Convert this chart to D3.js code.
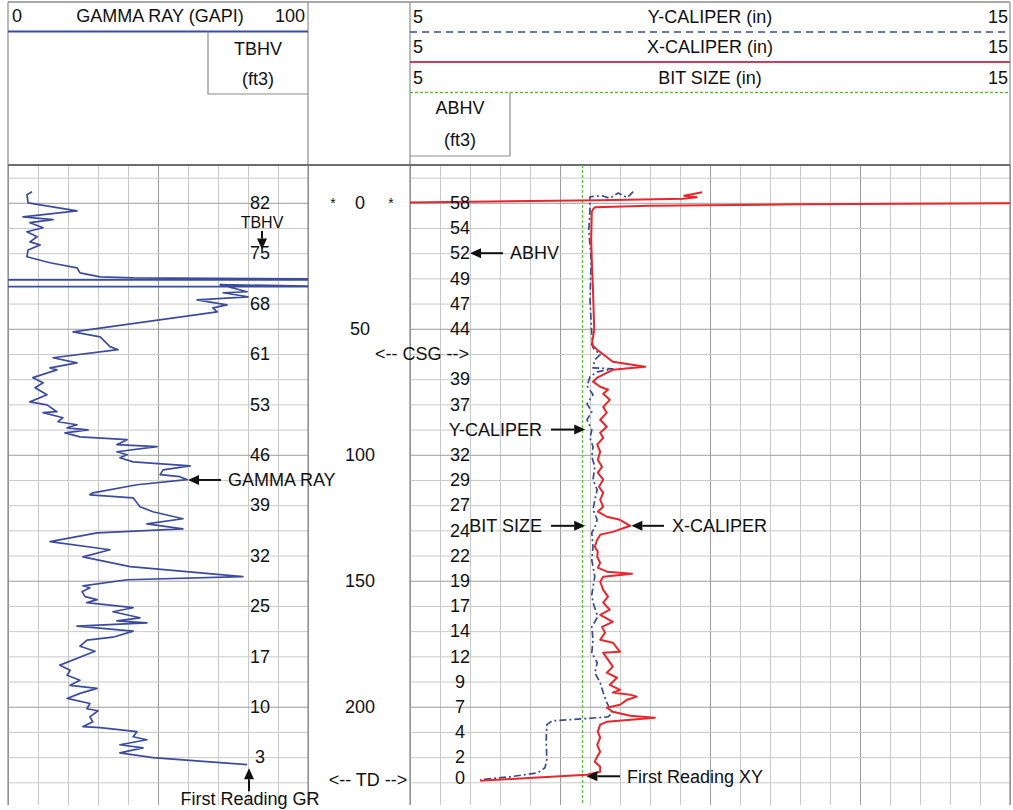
<!DOCTYPE html>
<html>
<head>
<meta charset="utf-8">
<script src="https://cdn.jsdelivr.net/npm/d3@7"></script>
<style>
  body { margin: 0; background: #fff; }
  svg text { font-family: "Liberation Sans", Arial, sans-serif; fill: #111; }
</style>
</head>
<body>
<svg id="log" width="1013" height="810"></svg>
<script>
// ---------------- data ----------------
// Gamma ray samples: [depth, GAPI]; null breaks the trace where it leaves the scale
const gammaRay = [
  [-4.4,8],[-3.2,6.3],[0,6.7],[3.2,23],[5.6,5],[6.7,15],[7.9,7.3],[9.9,11.7],[11.5,6.3],[13.5,9.7],
  [15.5,7.3],[16.7,10.7],[18.7,6.7],[21.4,6.3],[23.8,14],[25.8,23],[27.8,24],[29.4,30.7],[29.8,41.7],[30.3,115],
  null,
  [30.6,-15],[30.6,115],
  null,
  [33.3,-15],[33.3,115],[32.5,70.7],[35.3,79.7],[35.7,71.7],[37.3,80],[38.5,63],[40.5,73],[41.7,68.3],[43.3,69.7],
  [51.2,21.7],[53.2,30.7],[57.1,34],[58.3,36.7],[61.5,15],[63.5,23],[65.5,14],[66.3,16.3],[69.4,8.3],[71.4,11.7],
  [73.4,9],[76.2,13],[79,7.3],[80.2,13],[82.9,16.3],[83.3,11.7],[85.3,18.3],[86.9,16.7],[88.1,23],[89.3,19.7],
  [90.1,26.7],[91.3,19],[92.9,24],[94,39.7],[96,36.3],[96.8,49.7],[98.8,36.3],[100,39.7],[101.2,37.3],[102.8,41.7],
  [104.4,60.7],[106,51.7],[107.9,50.7],[108.7,57.3],[109.9,59.7],[111.9,43],[115.1,28.3],[115.9,27.3],[117.1,41.7],
  [120.6,44],[122.6,48.3],[125.4,58.3],[127.4,46.3],[129.4,58.3],[131,29.7],[134.5,14],[137.7,34],[140.5,25],
  [144.4,40.7],[148.4,78.3],[149.6,39.7],[152,25],[152.8,27.3],[154.4,24.7],[156.3,25.7],[157.5,29.7],[158.7,26.3],
  [160.7,41.7],[162.3,35],[164.7,44],[165.9,36.3],[166.7,46.3],[168,23],[170,41.7],[172.4,35],[173.6,26.3],[176,24],
  [178,29],[183.5,17.3],[185.5,20.7],[187.5,19.7],[189.5,24],[191.5,20.7],[192.7,29.7],[194.7,24],[196.7,19.7],
  [198.7,27.3],[200.8,26.3],[201.6,30],[204,27.3],[206,28.3],[207.9,25],[208.3,30.7],[209.9,43],[211.9,41.7],
  [213.1,46.3],[215.1,37.3],[216.3,45],[218.3,37.3],[220.2,48.3],[223,79.7]
];

// X-caliper samples: [depth, inches]; null marks the wrap at the top of the hole
const xCaliper = [
  [-4.2,9.87],[-2.8,9.57],[-2.2,9.78],[-1.6,9.55],[-1.0,8.17],[-0.1,4.9],
  null,
  [0.2,15.1],[0.6,11.5],[1.2,9.0],[1.8,8.08],[2.6,8.05],[3.6,8.03],[14.7,8.02],[22.6,8.03],[34.5,8.05],[50.4,8.07],
  [56.3,8.03],[58.3,8.12],[63.1,8.38],[65.1,8.92],[66.3,8.38],[69.4,8.12],[71,8.05],[73,8.17],[74.2,8.3],[75.8,8.22],
  [78.2,8.33],[81,8.22],[83.3,8.28],[86.1,8.17],[88.9,8.28],[91.3,8.17],[93.3,8.22],[96,8.12],[98.8,8.17],[102,8.13],
  [104.8,8.2],[107.1,8.13],[109.9,8.22],[112.7,8.15],[115.1,8.22],[117.9,8.17],[120.6,8.22],[122.6,8.13],[124.6,8.28],
  [125.8,8.5],[128.2,8.67],[130.6,8.38],[131.7,8.17],[133.7,8.12],[136.5,8.08],[138.5,8.13],[140.5,8.12],[142.9,8.17],
  [144.8,8.13],[146.4,8.28],[147.2,8.7],[148.4,8.22],[150.4,8.17],[153.6,8.22],[156.3,8.3],[158.7,8.22],[161.5,8.33],
  [163.5,8.17],[166.3,8.38],[168.3,8.2],[170.6,8.25],[173.4,8.17],[174.6,8.38],[178.2,8.5],[178.6,8.22],[181.3,8.3],
  [184.1,8.38],[186.5,8.28],[188.5,8.45],[191.3,8.33],[193.3,8.5],[194.4,8.38],[195.2,8.67],[196,8.78],[197.2,8.62],
  [199.2,8.5],[200.4,8.28],[202,8.38],[203.6,8.67],[204.4,9.08],[206,8.28],[207.1,8.17],[209.9,8.13],[212.3,8.17],
  [215.1,8.12],[217.9,8.17],[219.8,8.12],[221.8,8.08],[223.8,8.17],[225.8,8.17],[227,7.95],[228.2,7.05],[229.4,6.17]
];

// Y-caliper samples: [depth, inches]
const yCaliper = [
  [-4.4,8.72],[-2.0,8.62],[-3.9,8.47],[-1.8,8.33],[-2.8,8.2],[-2.4,8.0],[2.6,8.0],[10.7,7.98],[22.6,8.02],[38.5,8.0],
  [52.4,8.03],[57.5,8.05],[60.3,8.17],[62.3,8.08],[65.5,8.05],[65.9,8.38],[67.1,8.12],[69,8.0],[72.6,7.95],[76.2,8.05],
  [79.8,7.95],[82.9,8.03],[86.1,7.95],[90.1,8.03],[93.3,8.0],[96.8,8.05],[100.8,8.03],[104.8,8.08],[109.9,8.05],
  [113.9,8.12],[117.9,8.08],[121.8,8.05],[125.8,8.12],[128.6,8.08],[131,8.03],[136.5,8.05],[141.7,8.03],[148.4,8.08],
  [152.4,8.05],[155.6,8.03],[158.7,8.05],[164.3,8.13],[168.3,8.03],[173.4,8.05],[178.6,8.03],[182.5,8.12],[186.5,8.08],
  [190.5,8.17],[194.4,8.22],[198.4,8.28],[202.4,8.37],[204,8.3],[204.8,7.88],[205.6,7.37],[207.1,7.28],[213.1,7.27],
  [221,7.28],[224.2,7.25],[226.2,7.13],[227.8,6.67],[229,6.17]
];

// Bit size: [depth, inches]
const bitSize = [[-15,7.875],[239,7.875]];

// Depth track labels (ft)
const depthTicks = [0, 50, 100, 150, 200];

// Total borehole volume labels (ft3) down the gamma ray track
const tbhvDepths = [0, 20, 40, 60, 80, 100, 120, 140, 160, 180, 200, 220];
const tbhvLabels = [82, 75, 68, 61, 53, 46, 39, 32, 25, 17, 10, 3];

// Annular borehole volume labels (ft3) down the caliper track
const abhvDepths = [0, 10, 20, 30, 40, 50, 70, 80, 100, 110, 120, 130, 140, 150, 160, 170, 180, 190, 200, 210, 220, 228];
const abhvLabels = [58, 54, 52, 49, 47, 44, 39, 37, 32, 29, 27, 24, 22, 19, 17, 14, 12, 9, 7, 4, 2, 0];

// Casing shoe and total depth (ft)
const casingDepth = 60;
const totalDepth = 229;

// ---------------- layout ----------------
const svg = d3.select("#log");
const HEAD_TOP = 2, PLOT_TOP = 165, PLOT_BOTTOM = 805;
const GR_L = 8, GR_R = 308, DEP_R = 410, CAL_R = 1010;

const yDepth = d3.scaleLinear().domain([-15, 239]).range([PLOT_TOP, PLOT_BOTTOM]);
const xGR = d3.scaleLinear().domain([0, 100]).range([GR_L, GR_R]);
const xCal = d3.scaleLinear().domain([5, 15]).range([DEP_R, CAL_R]);

const C_GR = "#3b4c9e", C_X = "#e8262c", C_Y = "#3b4c8e", C_BIT = "#5cbf3a";
const C_MINOR = "#c9c9c9", C_MAJOR = "#9c9c9c", C_BORDER = "#8c8c8c";
const FS = 18;

// clip paths for the two curve tracks
const defs = svg.append("defs");
defs.append("clipPath").attr("id", "clipGR").append("rect")
  .attr("x", GR_L).attr("y", PLOT_TOP).attr("width", GR_R - GR_L).attr("height", PLOT_BOTTOM - PLOT_TOP);
defs.append("clipPath").attr("id", "clipCal").append("rect")
  .attr("x", DEP_R).attr("y", PLOT_TOP).attr("width", CAL_R - DEP_R).attr("height", PLOT_BOTTOM - PLOT_TOP);

// ---------------- grid ----------------
function styleGrid(g, isMajor) {
  g.select(".domain").remove();
  g.selectAll(".tick line").attr("stroke", d => isMajor(d) ? C_MAJOR : C_MINOR).attr("stroke-width", 1);
  g.selectAll(".tick text").remove();
}
const depthLines = d3.range(-10, 231, 10);
const majorDepth = d => d % 50 === 0;

// gamma ray track
svg.append("g").attr("transform", `translate(0,${PLOT_TOP})`)
  .call(d3.axisBottom(xGR).tickValues(d3.range(0, 101, 10)).tickSize(PLOT_BOTTOM - PLOT_TOP).tickFormat(""))
  .call(g => styleGrid(g, d => d % 50 === 0));
svg.append("g").attr("transform", `translate(${GR_L},0)`)
  .call(d3.axisRight(yDepth).tickValues(depthLines).tickSize(GR_R - GR_L).tickFormat(""))
  .call(g => styleGrid(g, majorDepth));

// caliper track
svg.append("g").attr("transform", `translate(0,${PLOT_TOP})`)
  .call(d3.axisBottom(xCal).tickValues(d3.range(5, 15.01, 0.5)).tickSize(PLOT_BOTTOM - PLOT_TOP).tickFormat(""))
  .call(g => styleGrid(g, d => Math.abs(((d - 5) / 2.5) - Math.round((d - 5) / 2.5)) < 1e-6));
svg.append("g").attr("transform", `translate(${DEP_R},0)`)
  .call(d3.axisRight(yDepth).tickValues(depthLines).tickSize(CAL_R - DEP_R).tickFormat(""))
  .call(g => styleGrid(g, majorDepth));

// track borders
[GR_L, GR_R, DEP_R, CAL_R].forEach(x => {
  svg.append("line").attr("x1", x).attr("x2", x).attr("y1", HEAD_TOP).attr("y2", PLOT_BOTTOM)
    .attr("stroke", C_BORDER).attr("stroke-width", 1.2);
});
svg.append("line").attr("x1", GR_L).attr("x2", CAL_R).attr("y1", HEAD_TOP).attr("y2", HEAD_TOP)
  .attr("stroke", C_BORDER).attr("stroke-width", 1.5);
svg.append("line").attr("x1", GR_L).attr("x2", CAL_R).attr("y1", PLOT_TOP).attr("y2", PLOT_TOP)
  .attr("stroke", "#6e6e6e").attr("stroke-width", 1.8);

// ---------------- header ----------------
function txt(x, y, s, anchor, size) {
  return svg.append("text").attr("x", x).attr("y", y).attr("dy", "0.35em")
    .attr("text-anchor", anchor || "middle").attr("font-size", size || FS).text(s);
}
// gamma ray scale
txt(12, 16, xGR.domain()[0], "start");
txt(160, 16, "GAMMA RAY (GAPI)");
txt(305, 16, xGR.domain()[1], "end");
svg.append("line").attr("x1", GR_L).attr("x2", GR_R).attr("y1", 31.5).attr("y2", 31.5)
  .attr("stroke", C_GR).attr("stroke-width", 2);
svg.append("path").attr("d", "M208,31.5V94H308").attr("fill", "none").attr("stroke", C_BORDER).attr("stroke-width", 1.2);
txt(258, 49, "TBHV");
txt(258, 79, "(ft3)");

// caliper scales
const calHeads = [
  { name: "Y-CALIPER (in)", y: 17, lineY: 32, color: C_Y, dash: "7,5", w: 1.6 },
  { name: "X-CALIPER (in)", y: 47, lineY: 62, color: "#cc3c5e", dash: null, w: 2.2 },
  { name: "BIT SIZE (in)", y: 78, lineY: 92.5, color: C_BIT, dash: "3,2", w: 1.5 }
];
calHeads.forEach(h => {
  txt(413, h.y, xCal.domain()[0], "start");
  txt(710, h.y, h.name);
  txt(1008, h.y, xCal.domain()[1], "end");
  const l = svg.append("line").attr("x1", DEP_R).attr("x2", CAL_R).attr("y1", h.lineY).attr("y2", h.lineY)
    .attr("stroke", h.color).attr("stroke-width", h.w);
  if (h.dash) l.attr("stroke-dasharray", h.dash);
});
svg.append("path").attr("d", "M510,92.5V156H410").attr("fill", "none").attr("stroke", C_BORDER).attr("stroke-width", 1.2);
txt(460, 108, "ABHV");
txt(460, 140, "(ft3)");

// ---------------- curves ----------------
const line = (xs) => d3.line().defined(d => d !== null).x(d => xs(d[1])).y(d => yDepth(d[0]));

svg.append("path").datum(bitSize).attr("clip-path", "url(#clipCal)")
  .attr("d", line(xCal)).attr("fill", "none").attr("stroke", C_BIT)
  .attr("stroke-width", 1.3).attr("stroke-dasharray", "3,2");

svg.append("path").datum(yCaliper).attr("clip-path", "url(#clipCal)")
  .attr("d", line(xCal)).attr("fill", "none").attr("stroke", C_Y)
  .attr("stroke-width", 1.7).attr("stroke-dasharray", "7,3,2,3").attr("stroke-linejoin", "round");

svg.append("path").datum(xCaliper).attr("clip-path", "url(#clipCal)")
  .attr("d", line(xCal)).attr("fill", "none").attr("stroke", C_X)
  .attr("stroke-width", 2).attr("stroke-linejoin", "round");

svg.append("path").datum(gammaRay).attr("clip-path", "url(#clipGR)")
  .attr("d", line(xGR)).attr("fill", "none").attr("stroke", C_GR)
  .attr("stroke-width", 1.7).attr("stroke-linejoin", "round");

// ---------------- track labels ----------------
tbhvDepths.forEach((d, i) => txt(260, yDepth(d), tbhvLabels[i]));
abhvDepths.forEach((d, i) => txt(460, yDepth(d), abhvLabels[i]));
depthTicks.forEach(d => txt(360, yDepth(d), d));
txt(333, yDepth(0), "*", "middle", 14);
txt(391, yDepth(0), "*", "middle", 14);
txt(469, yDepth(casingDepth), "<-- CSG -->", "end");
txt(368, yDepth(totalDepth), "<-- TD -->");

// ---------------- annotations ----------------
function arrow(x1, y1, x2, y2) {
  const a = Math.atan2(y2 - y1, x2 - x1), L = 11, W = 5;
  const bx = x2 - L * Math.cos(a), by = y2 - L * Math.sin(a);
  svg.append("line").attr("x1", x1).attr("y1", y1).attr("x2", bx).attr("y2", by)
    .attr("stroke", "#111").attr("stroke-width", 2);
  const px = -Math.sin(a) * W, py = Math.cos(a) * W;
  svg.append("path")
    .attr("d", `M${x2},${y2}L${bx + px},${by + py}L${bx - px},${by - py}Z`)
    .attr("fill", "#111");
}
// gamma ray track
txt(262, yDepth(7.7), "TBHV", "middle", 16);
arrow(262, yDepth(11.2), 262, yDepth(18.5));
arrow(xGR(71), yDepth(110), xGR(60), yDepth(110));
txt(xGR(73.3), yDepth(110), "GAMMA RAY", "start");
arrow(249, yDepth(233.5), 249, yDepth(224.4));
txt(250, yDepth(236.6), "First Reading GR");

// caliper track
arrow(503, yDepth(20), 470, yDepth(20));
txt(510, yDepth(20), "ABHV", "start");
txt(542, yDepth(90), "Y-CALIPER", "end");
arrow(551, yDepth(90), xCal(7.92), yDepth(90));
txt(542, yDepth(128.2), "BIT SIZE", "end");
arrow(551, yDepth(128.2), xCal(7.92), yDepth(128.2));
arrow(664, yDepth(128.2), xCal(8.69), yDepth(128.2));
txt(672, yDepth(128.2), "X-CALIPER", "start");
arrow(620, yDepth(227.6), xCal(7.94), yDepth(227.6));
txt(627, yDepth(227.6), "First Reading XY", "start");
</script>
</body>
</html>
